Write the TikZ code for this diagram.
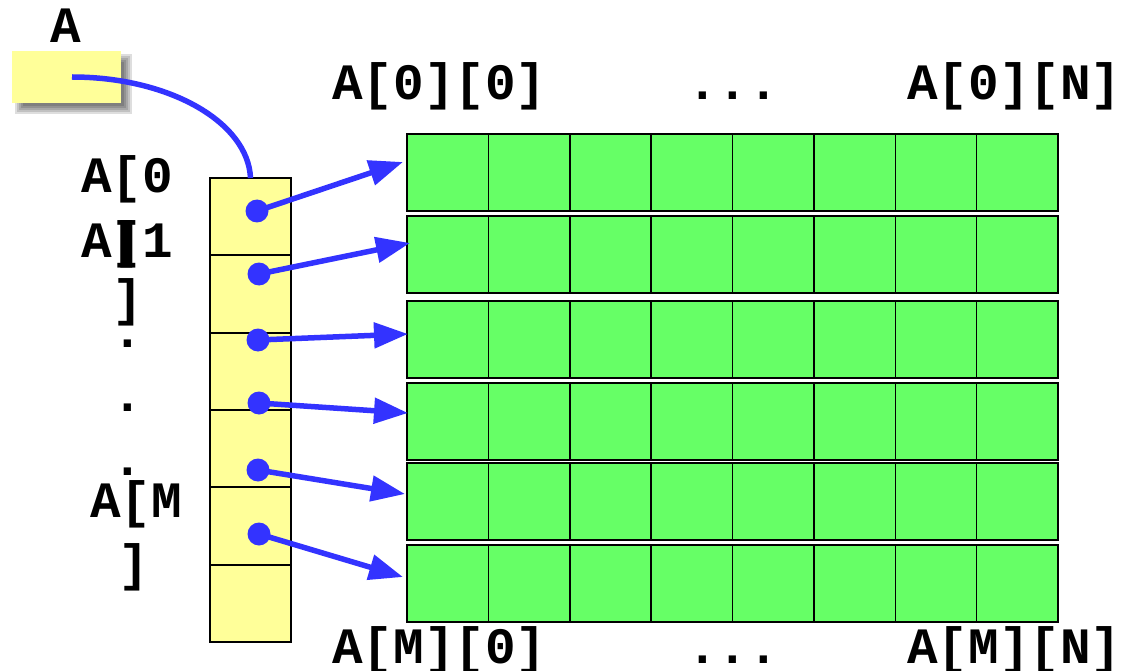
\documentclass[tikz,border=0pt]{standalone}
\usepackage{fontspec}
\newfontfamily\cour{Liberation Mono}
\usetikzlibrary{arrows.meta,calc}
\definecolor{ptrblue}{RGB}{51,51,255}
\definecolor{cellgreen}{RGB}{102,255,102}
\definecolor{cellyellow}{RGB}{255,255,153}
\begin{document}
\begin{tikzpicture}[x=1pt,y=-1pt,
  lbl/.style={font=\cour\bfseries\fontsize{51}{51}\selectfont, inner sep=0pt, anchor=base},
  rowbox/.style={draw=black, line width=2pt, fill=cellgreen, minimum width=651pt, minimum height=77pt, inner sep=0pt, outer sep=0pt, anchor=north west},
  cellbox/.style={draw=black, line width=2pt, fill=cellyellow, minimum width=81pt, minimum height=77.3pt, inner sep=0pt, outer sep=0pt, anchor=north west},
  ptr/.style={draw=ptrblue, line width=5.5pt, -{Triangle[length=34pt,width=25pt,fill=ptrblue]}},
  ptrdot/.style={circle, fill=ptrblue, minimum size=23pt, inner sep=0pt},
  pbox/.style={fill=cellyellow, minimum width=109pt, minimum height=52pt, inner sep=0pt, anchor=north west},
]
\useasboundingbox (0,0) rectangle (1127,671);

% variable A with blurred shadow
\foreach \e in {-4,-2,0,2,4}
  \fill[black, opacity=0.13] (19-\e,58-\e) rectangle (128+\e,110+\e);
\node[pbox] (varA) at (12,51) {};
\node[lbl] (labA) at (66,43) {A};

% column of row pointers
\foreach \i in {1,...,6}
  \node[cellbox] (c\i) at (210,{178+(\i-1)*77.33}) {};

% rows of the matrix
\foreach \i/\t in {1/134,2/216,3/301,4/383,5/463,6/545} {
  \node[rowbox] (r\i) at (407,\t) {};
  \foreach \k in {1,...,7}
    \draw[line width=1.5pt] ($(r\i.north west)+(\k*81.375,0)$) -- ($(r\i.south west)+(\k*81.375,0)$);
}

% pointer from A to the column
\coordinate (pA) at (72,77);
\draw[ptrblue, line width=5.5pt] (pA) .. controls (169,77) and (248,122) .. (c1.north);

% pointers from the column to the rows
\foreach \i/\dx/\dy/\tx/\ty in {1/257/211/403/162, 2/259/274/410/243, 3/258/340/408/334, 4/259/403/408/413, 5/258/470/405/494, 6/259/534/403/577} {
  \node[ptrdot] (d\i) at (\dx,\dy) {};
  \coordinate (t\i) at (\tx,\ty);
  \draw[ptr] (d\i.center) -- (t\i);
}

% labels above and below
\node[lbl, anchor=base west] (h00) at (332,100) {A[0][0]};
\node[lbl] (hdots) at (733,100) {...};
\node[lbl, anchor=base west] (h0N) at (907,100) {A[0][N]};
\node[lbl, anchor=base west] (hM0) at (332,663) {A[M][0]};
\node[lbl] (bdots) at (733,663) {...};
\node[lbl, anchor=base west] (hMN) at (907,663) {A[M][N]};

% left labels
\node[lbl] (l0) at (127,193) {A[0};
\node[lbl] (l0b) at (127,257) {]};
\node[lbl] (l1) at (127,257) {A[1};
\node[lbl] (l1b) at (128,315) {]};
\node[lbl] (ld1) at (128,347) {.};
\node[lbl] (ld2) at (128,411) {.};
\node[lbl] (ld3) at (128,475) {.};
\node[lbl] (lM) at (136,517) {A[M};
\node[lbl] (lMb) at (134,580) {]};
\end{tikzpicture}
\end{document}
